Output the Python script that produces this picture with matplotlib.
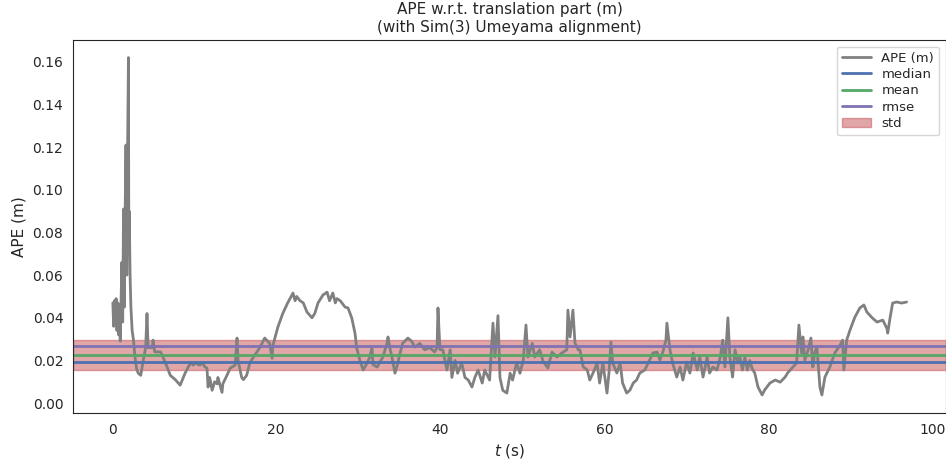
import matplotlib
matplotlib.use("Agg")
import matplotlib.pyplot as plt
import seaborn as sns

# APE trace (time in s, error in m)
t = [0.1, 0.2, 0.3, 0.4, 0.5, 0.6, 0.7, 0.8, 0.9, 1.0, 1.1, 1.2, 1.3, 1.4, 1.5, 1.6,
     1.7, 1.8, 1.9, 2.0, 2.05, 2.1, 2.2, 2.3, 2.45, 2.6, 2.8, 3.0, 3.2, 3.5, 3.8, 4.1,
     4.26, 4.4, 4.9, 5.0, 5.2, 5.9, 6.2, 6.7, 7.1, 7.7, 8.3, 8.9, 9.3, 9.6, 9.9, 10.2,
     10.5, 10.7, 11.0, 11.3, 11.57, 11.7, 11.9, 12.2, 12.5, 12.8, 12.9, 13.4, 13.5, 14.0,
     14.4, 15.0, 15.23, 15.35, 15.8, 16.0, 16.4, 16.8, 17.4, 18.0, 18.6, 19.2, 19.5, 19.6,
     20.2, 20.8, 21.4, 22.05, 22.3, 22.5, 22.9, 23.3, 23.75, 24.36, 24.7, 25.1, 25.7, 26.2,
     26.5, 26.9, 27.2, 27.4, 27.8, 28.4, 28.75, 29.2, 29.6, 29.8, 30.2, 30.6, 31.1, 31.4,
     31.67, 31.8, 32.3, 32.6, 33.0, 33.5, 33.62, 33.9, 34.1, 34.47, 34.7, 35.1, 35.4, 36.05,
     36.5, 36.9, 37.5, 38.1, 38.7, 39.3, 39.6, 39.71, 39.95, 40.3, 40.8, 41.2, 41.4, 41.8,
     42.1, 42.6, 43.0, 43.4, 43.85, 44.2, 44.6, 45.1, 45.4, 46.0, 46.41, 46.65, 47.02, 47.26,
     47.6, 48.1, 48.5, 48.8, 49.3, 49.7, 50.1, 50.43, 50.67, 51.2, 51.5, 52.1, 52.5, 53.1,
     53.6, 54.2, 54.8, 55.4, 55.54, 55.8, 56.15, 56.4, 56.8, 57.0, 57.4, 57.9, 58.2, 58.6,
     59.1, 59.4, 59.8, 60.3, 60.54, 60.78, 61.0, 61.5, 61.9, 62.2, 62.7, 63.1, 63.5, 63.9,
     64.3, 64.9, 65.5, 65.9, 66.4, 66.75, 67.1, 67.48, 67.6, 67.97, 68.3, 68.8, 69.2, 69.55,
     70.0, 70.4, 70.8, 71.3, 71.6, 72.0, 72.5, 72.8, 73.2, 73.7, 74.1, 74.4, 74.67, 75.03,
     75.27, 75.6, 75.9, 76.25, 76.5, 76.8, 77.1, 77.4, 77.7, 78.0, 78.3, 78.7, 79.2, 79.5,
     80.15, 80.8, 81.4, 82.0, 82.3, 82.95, 83.4, 83.68, 84.0, 84.17, 84.4, 84.8, 85.14, 85.38,
     85.6, 85.87, 86.24, 86.48, 86.85, 87.45, 88.06, 88.67, 89.0, 89.16, 89.5, 89.9, 90.5, 91.1,
     91.6, 91.96, 92.6, 93.2, 93.9, 94.4, 94.5, 94.8, 95.1, 95.6, 96.2, 96.8]
ape = [0.047, 0.036, 0.048, 0.040, 0.049, 0.034, 0.047, 0.032, 0.046, 0.029, 0.047, 0.066, 0.038, 0.091, 0.045, 0.090,
       0.121, 0.060, 0.120, 0.162, 0.070, 0.090, 0.060, 0.045, 0.034, 0.030, 0.0216, 0.016, 0.014, 0.013, 0.020, 0.026,
       0.042, 0.026, 0.026, 0.0295, 0.024, 0.024, 0.0216, 0.017, 0.013, 0.011, 0.0084, 0.014, 0.017, 0.019, 0.0178, 0.019,
       0.018, 0.0178, 0.019, 0.017, 0.0164, 0.0075, 0.012, 0.006, 0.010, 0.009, 0.012, 0.005, 0.009, 0.013,
       0.0164, 0.0178, 0.0305, 0.020, 0.012, 0.011, 0.013, 0.019, 0.0225, 0.026, 0.0305, 0.028, 0.021, 0.027,
       0.0356, 0.042, 0.047, 0.0516, 0.048, 0.050, 0.048, 0.047, 0.0427, 0.040, 0.042, 0.047, 0.0507, 0.052,
       0.048, 0.0516, 0.047, 0.049, 0.048, 0.045, 0.0446, 0.040, 0.0328, 0.026, 0.020, 0.0155, 0.019, 0.0216,
       0.026, 0.018, 0.0169, 0.019, 0.0216, 0.028, 0.031, 0.025, 0.0216, 0.014, 0.017, 0.0235, 0.028, 0.0305,
       0.029, 0.0263, 0.028, 0.025, 0.026, 0.024, 0.026, 0.0446, 0.025, 0.025, 0.0155, 0.025, 0.012, 0.020,
       0.014, 0.0188, 0.012, 0.0108, 0.0075, 0.012, 0.0155, 0.0094, 0.0155, 0.0108, 0.0375, 0.0216, 0.041, 0.012,
       0.006, 0.0047, 0.014, 0.0108, 0.019, 0.014, 0.0202, 0.0366, 0.0216, 0.028, 0.0216, 0.025, 0.0197, 0.0164,
       0.0239, 0.0216, 0.0235, 0.025, 0.0436, 0.031, 0.0436, 0.0281, 0.025, 0.025, 0.017, 0.0155, 0.0108, 0.0141,
       0.0188, 0.0094, 0.0188, 0.0047, 0.0141, 0.0286, 0.0188, 0.0141, 0.0188, 0.0094, 0.0047, 0.0061, 0.0094, 0.0108,
       0.0141, 0.0155, 0.0202, 0.0235, 0.0239, 0.0202, 0.0239, 0.0295, 0.0375, 0.025, 0.0188, 0.0122, 0.0169, 0.0108,
       0.0192, 0.0141, 0.0235, 0.0155, 0.0216, 0.0122, 0.0216, 0.0141, 0.0169, 0.0155, 0.0216, 0.0295, 0.0169, 0.040,
       0.0216, 0.0122, 0.025, 0.0188, 0.0216, 0.0155, 0.0216, 0.0155, 0.020, 0.0160, 0.0141, 0.0075, 0.0038, 0.0061,
       0.0094, 0.0108, 0.0098, 0.0122, 0.0141, 0.0169, 0.0188, 0.0366, 0.0235, 0.031, 0.0202, 0.0249, 0.0305, 0.0169,
       0.0235, 0.0263, 0.0075, 0.0038, 0.0122, 0.0169, 0.0235, 0.027, 0.0295, 0.0155, 0.0295, 0.0342, 0.0403, 0.0446,
       0.046, 0.0427, 0.040, 0.038, 0.0389, 0.035, 0.0328, 0.0403, 0.0469, 0.0474, 0.0469, 0.0474]

# statistics shown as horizontal lines
stat_median = 0.0192
stat_mean = 0.0225
stat_rmse = 0.0268
stat_std = 0.0070

sns.set_style("white")

fig = plt.figure(figsize=(9.46, 4.59), dpi=100)
ax = fig.add_axes([0.0772, 0.100, 0.9228, 0.813])

ax.plot(t, ape, color="gray", lw=2.0, label="APE (m)")
ax.axhline(stat_median, color="#4c72b0", lw=2, label="median")
ax.axhline(stat_mean, color="#55a868", lw=2, label="mean")
ax.axhline(stat_rmse, color="#8172b2", lw=2, label="rmse")
ax.axhspan(stat_mean - stat_std, stat_mean + stat_std, color="#c44e52", alpha=0.5, label="std")

ax.set_xlim(-4.75, 101.6)
ax.set_ylim(-0.0047, 0.1703)
ax.set_xticks([0, 20, 40, 60, 80, 100])
ax.set_yticks([0.00, 0.02, 0.04, 0.06, 0.08, 0.10, 0.12, 0.14, 0.16])
ax.set_yticklabels(["0.00", "0.02", "0.04", "0.06", "0.08", "0.10", "0.12", "0.14", "0.16"])
ax.tick_params(labelsize=10)

ax.set_xlabel("$t$ (s)", fontsize=11)
ax.set_ylabel("APE (m)", fontsize=11)
ax.set_title("APE w.r.t. translation part (m)\n(with Sim(3) Umeyama alignment)", fontsize=11)
ax.legend(loc="upper right", fontsize=9.5, labelspacing=0.25, handlelength=2.2,
          borderpad=0.4, borderaxespad=0.5)

fig.savefig("out.png", dpi=100)
